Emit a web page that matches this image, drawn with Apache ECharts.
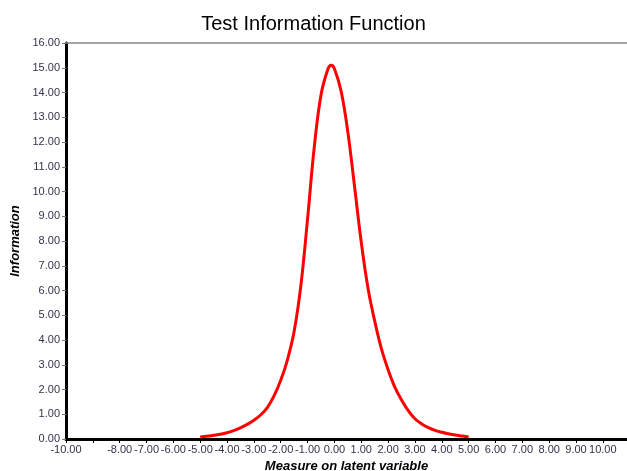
<!DOCTYPE html>
<html>
<head>
<meta charset="utf-8">
<script src="https://cdn.jsdelivr.net/npm/echarts@6/dist/echarts.min.js"></script>
<style>
  html, body { margin: 0; padding: 0; background: #fff; }
  #main { width: 627px; height: 471px; }
</style>
</head>
<body>
<div id="main"></div>
<script>
// theta values and test information
var thetas = [-5.00,-4.75,-4.50,-4.25,-4.00,-3.75,-3.50,-3.25,-3.00,-2.75,-2.50,-2.25,-2.00,-1.75,-1.50,-1.25,-1.00,-0.75,-0.50,-0.25,-0.12,
              0.00,0.25,0.50,0.75,1.00,1.25,1.50,1.75,2.00,2.25,2.50,2.75,3.00,3.25,3.50,3.75,4.00,4.25,4.50,4.75,5.00];
var info   = [0.08,0.11,0.15,0.19,0.25,0.34,0.45,0.59,0.76,0.97,1.27,1.74,2.37,3.20,4.35,6.20,8.90,11.80,13.90,14.92,15.10,
              14.96,14.05,12.40,10.20,7.95,6.10,4.77,3.65,2.80,2.10,1.58,1.15,0.82,0.61,0.46,0.35,0.27,0.21,0.16,0.12,0.08];
var hiddenXLabels = [-9];

var myChart = echarts.init(document.getElementById('main'));

var pts = [];
for (var i = 0; i < thetas.length; i++) {
    pts.push([thetas[i], info[i]]);
}

var lblColor = '#33334a';
var fnt = 'Liberation Sans, Arial, sans-serif';

var option = {
    animation: false,
    title: {
        text: 'Test Information Function',
        left: 'center',
        top: 9,
        textStyle: { fontFamily: fnt, fontSize: 20, fontWeight: 'normal', color: '#000' }
    },
    grid: { left: 66, right: 0, top: 43, bottom: 32, outerBoundsMode: 'none', containLabel: false },
    xAxis: [{
        type: 'value',
        min: -10,
        max: 10.9,
        interval: 1,
        name: 'Measure on latent variable',
        nameLocation: 'middle',
        nameGap: 19,
        nameTextStyle: { fontFamily: fnt, fontSize: 13, fontWeight: 'bold', fontStyle: 'italic', color: '#000' },
        axisLine: { onZero: false, lineStyle: { color: '#000', width: 3 } },
        axisTick: { length: 4, lineStyle: { color: '#000', width: 1 } },
        axisLabel: {
            margin: 5,
            fontFamily: fnt, fontSize: 11, color: lblColor,
            showMaxLabel: false,
            formatter: function (v) {
                if (v > 10.01 || hiddenXLabels.indexOf(Math.round(v)) >= 0) return '';
                return v.toFixed(2);
            }
        },
        splitLine: { show: false }
    }, {
        type: 'value',
        position: 'top',
        min: -10,
        max: 10.9,
        axisLine: { onZero: false, lineStyle: { color: '#888', width: 1.5 } },
        axisTick: { show: false },
        axisLabel: { show: false },
        splitLine: { show: false }
    }],
    yAxis: {
        type: 'value',
        min: 0,
        max: 16,
        interval: 1,
        name: 'Information',
        nameLocation: 'middle',
        nameGap: 35,
        nameTextStyle: { fontFamily: fnt, fontSize: 13, fontWeight: 'bold', fontStyle: 'italic', color: '#000' },
        axisLine: { show: true, onZero: false, lineStyle: { color: '#000', width: 3 } },
        axisTick: { length: 4, lineStyle: { color: '#777', width: 1 } },
        axisLabel: {
            margin: 6,
            fontFamily: fnt, fontSize: 11, color: lblColor,
            formatter: function (v) { return v.toFixed(2); }
        },
        splitLine: { show: false }
    },
    series: [{
        type: 'line',
        data: pts,
        smooth: 0.4,
        showSymbol: false,
        lineStyle: { color: '#ff0000', width: 3 },
        itemStyle: { color: '#ff0000' }
    }]
};

myChart.setOption(option, true);
</script>
</body>
</html>
